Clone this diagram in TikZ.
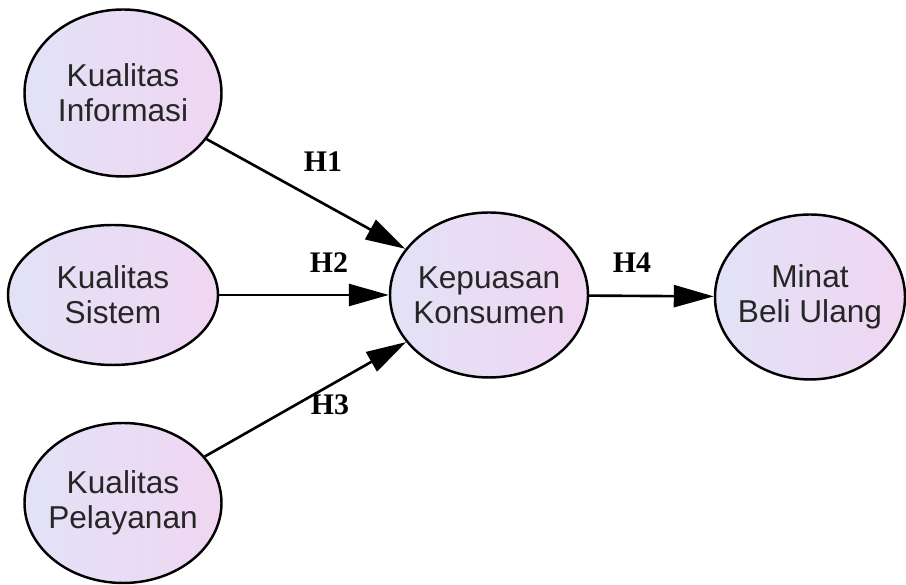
\documentclass[tikz,border=0pt]{standalone}
\usepackage{fontspec}
\setmainfont{Liberation Serif}
\newfontfamily\varfont{Liberation Sans}
\usetikzlibrary{shapes.geometric, arrows.meta, positioning}

\definecolor{lavleft}{RGB}{226,226,246}
\definecolor{lavright}{RGB}{240,214,242}

\begin{document}
\begin{tikzpicture}[
      var/.style={ellipse, draw=black, line width=1.4pt, inner xsep=-0.2cm, inner ysep=0pt,
        left color=lavleft, right color=lavright, align=center,
        text=black!85, font=\varfont\fontsize{18}{20}\selectfont},
      hyp/.style={font=\bfseries\fontsize{17}{19}\selectfont},
      arr/.style={line width=1.5pt, -{Triangle[length=0.8cm, width=0.44cm]}}]
    \useasboundingbox (0,0) rectangle (18.12,11.7);
    \node[var, minimum width=3.94cm, minimum height=3.34cm] (info) at (2.46,9.84) {Kualitas\\Informasi};
    \node[var, minimum width=4.2cm, minimum height=2.8cm] (sistem) at (2.26,5.8) {Kualitas\\Sistem};
    \node[var, minimum width=3.94cm, minimum height=3.2cm] (layan) at (2.46,1.64) {Kualitas\\Pelayanan};
    \node[var, minimum width=3.96cm, minimum height=3.3cm] (puas) at (9.78,5.8) {Kepuasan\\Konsumen};
    \node[var, minimum width=3.8cm, minimum height=3.3cm] (minat) at (16.2,5.76) {Minat\\Beli Ulang};
    \draw[arr] (info) -- (puas);
    \draw[arr] (sistem) -- (puas);
    \draw[arr] (layan) -- (puas);
    \draw[arr] (puas) -- (minat);
    % hypothesis labels
    \node[hyp] (h1) at (6.46,8.46) {H1};
    \node[hyp] (h2) at (6.58,6.44) {H2};
    \node[hyp] (h3) at (6.6,3.6) {H3};
    \node[hyp] (h4) at (12.64,6.44) {H4};
\end{tikzpicture}
\end{document}
